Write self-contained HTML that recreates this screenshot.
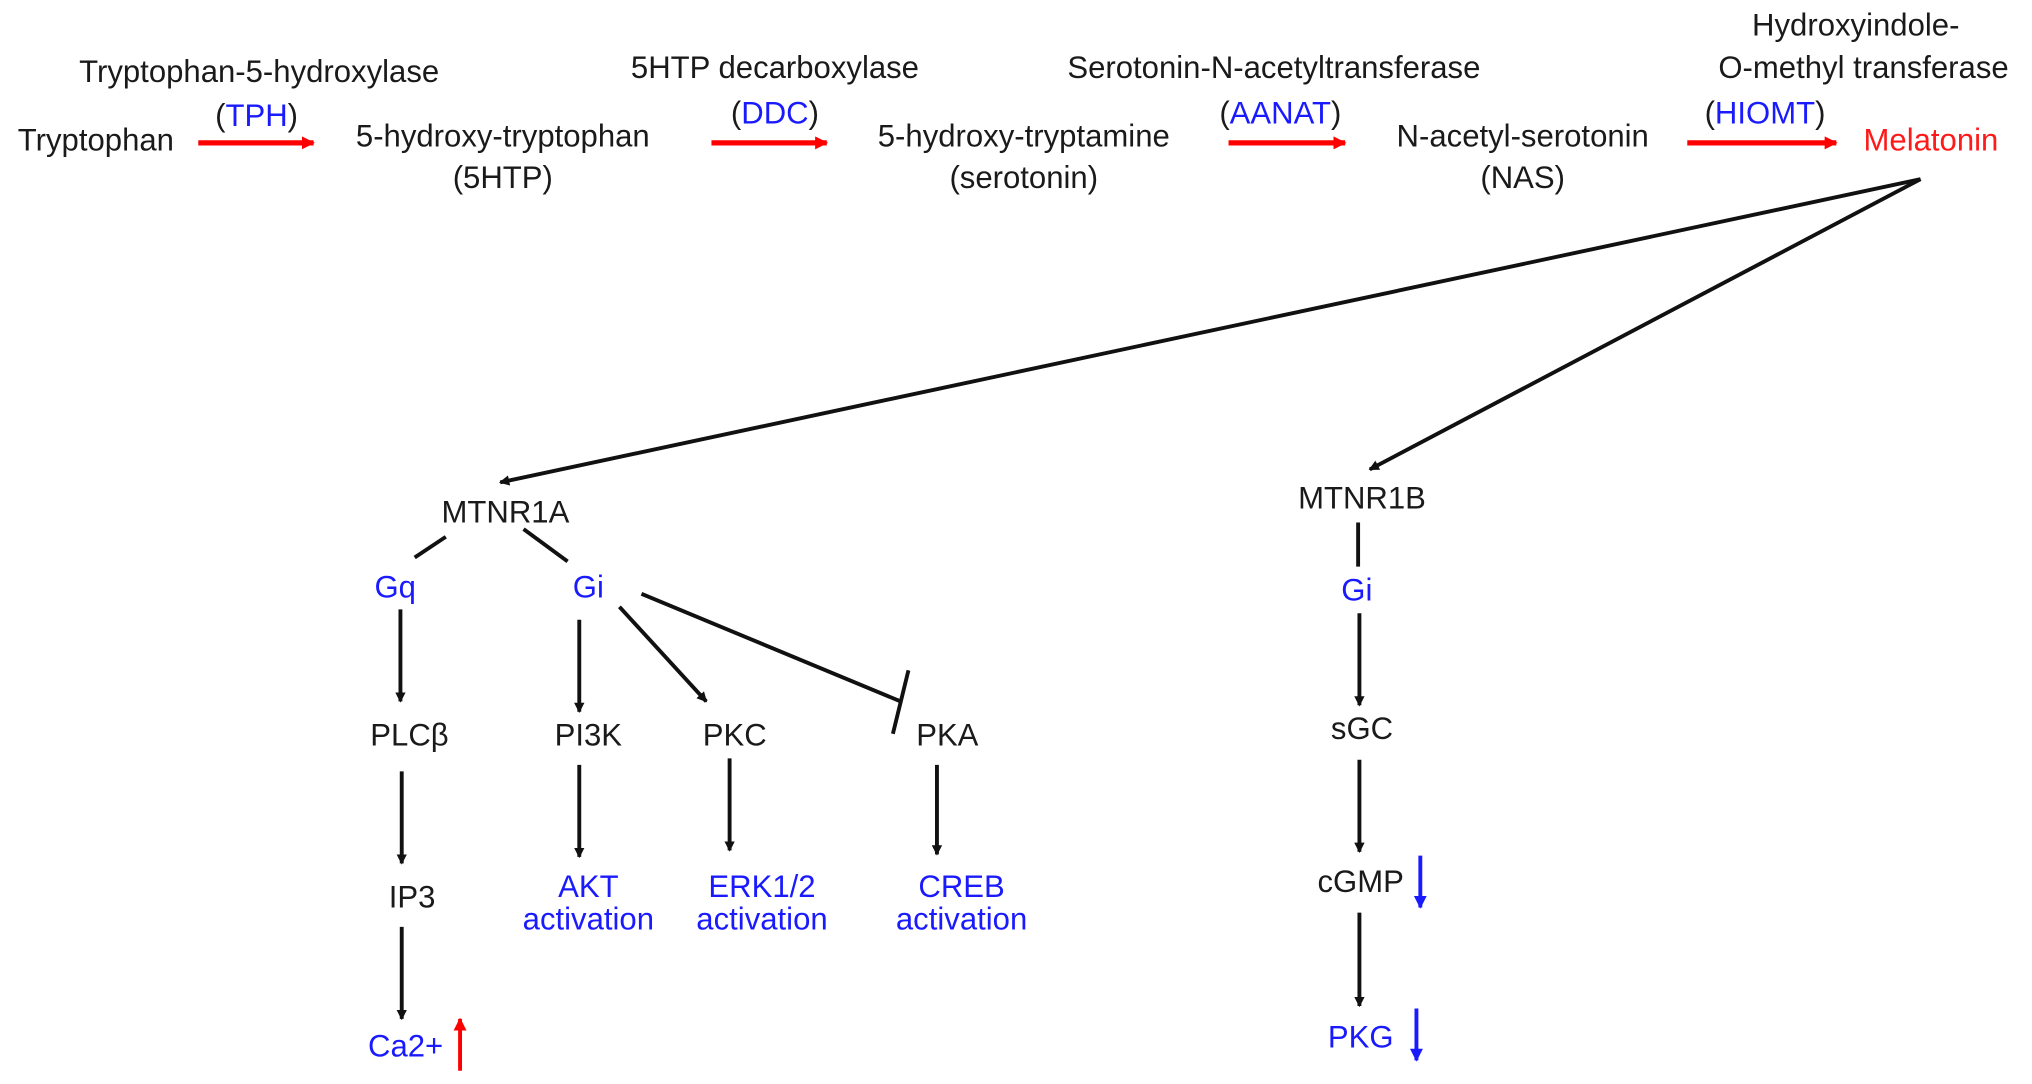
<!DOCTYPE html>
<html><head><style>
html,body{margin:0;padding:0;background:#fff;width:2032px;height:1084px;overflow:hidden}
text{font-family:"Liberation Sans",Arial,sans-serif;font-size:24px;text-anchor:middle}
.b{fill:#1a1aff}.r{fill:#ff1a1a}.k{fill:#1a1a1a}
</style></head><body>
<svg width="2032" height="1084" viewBox="0 0 1568 836" xmlns="http://www.w3.org/2000/svg">
<defs>
<marker id="ak" markerWidth="8" markerHeight="8" refX="7" refY="4" orient="auto" markerUnits="userSpaceOnUse" viewBox="0 0 8 8"><path d="M0,0 L8,4 L0,8 z" fill="#111"/></marker>
<marker id="ar" markerWidth="10" markerHeight="10" refX="9" refY="5" orient="auto" markerUnits="userSpaceOnUse" viewBox="0 0 10 10"><path d="M0,0 L10,5 L0,10 z" fill="#f00"/></marker>
<marker id="ab" markerWidth="10" markerHeight="10" refX="9" refY="5" orient="auto" markerUnits="userSpaceOnUse" viewBox="0 0 10 10"><path d="M0,0 L10,5 L0,10 z" fill="#1a1aff"/></marker>
</defs>
<g class="k">
<text x="200" y="63">Tryptophan-5-hydroxylase</text>
<text x="74" y="116">Tryptophan</text>
<text x="388" y="113">5-hydroxy-tryptophan</text>
<text x="388" y="145">(5HTP)</text>
<text x="598" y="60">5HTP decarboxylase</text>
<text x="790" y="113">5-hydroxy-tryptamine</text>
<text x="790" y="145">(serotonin)</text>
<text x="983" y="60">Serotonin-N-acetyltransferase</text>
<text x="1175" y="113">N-acetyl-serotonin</text>
<text x="1175" y="145">(NAS)</text>
<text x="1432" y="27">Hydroxyindole-</text>
<text x="1438" y="60">O-methyl transferase</text>
</g>
<text x="198" y="97" class="k">(<tspan class="b">TPH</tspan>)</text>
<text x="598" y="95" class="k">(<tspan class="b">DDC</tspan>)</text>
<text x="988" y="95" class="k">(<tspan class="b">AANAT</tspan>)</text>
<text x="1362" y="95" class="k">(<tspan class="b">HIOMT</tspan>)</text>
<text x="1490" y="116" class="r">Melatonin</text>
<g stroke="#f00" stroke-width="4" marker-end="url(#ar)">
<line x1="153" y1="110" x2="242" y2="110"/>
<line x1="549" y1="110" x2="638" y2="110"/>
<line x1="948" y1="110" x2="1038" y2="110"/>
<line x1="1302" y1="110" x2="1417" y2="110"/>
</g>
<g stroke="#111" stroke-width="3" fill="none">
<line x1="1482" y1="138" x2="386" y2="372" marker-end="url(#ak)"/>
<line x1="1482" y1="138" x2="1057" y2="362" marker-end="url(#ak)"/>
<line x1="344" y1="414" x2="320" y2="430"/>
<line x1="404" y1="408" x2="438" y2="433"/>
<line x1="309" y1="470" x2="309" y2="541" marker-end="url(#ak)"/>
<line x1="310" y1="595" x2="310" y2="666" marker-end="url(#ak)"/>
<line x1="310" y1="715" x2="310" y2="786" marker-end="url(#ak)"/>
<line x1="447" y1="478" x2="447" y2="549" marker-end="url(#ak)"/>
<line x1="447" y1="590" x2="447" y2="661" marker-end="url(#ak)"/>
<line x1="478" y1="468" x2="545" y2="541" marker-end="url(#ak)"/>
<line x1="563" y1="585" x2="563" y2="656" marker-end="url(#ak)"/>
<line x1="495" y1="458" x2="695" y2="541"/>
<line x1="701" y1="517" x2="689" y2="566"/>
<line x1="723" y1="590" x2="723" y2="659" marker-end="url(#ak)"/>
<line x1="1048" y1="403" x2="1048" y2="437"/>
<line x1="1049" y1="473" x2="1049" y2="544" marker-end="url(#ak)"/>
<line x1="1049" y1="586" x2="1049" y2="657" marker-end="url(#ak)"/>
<line x1="1049" y1="704" x2="1049" y2="776" marker-end="url(#ak)"/>
</g>
<line x1="355" y1="826" x2="355" y2="786" stroke="#f00" stroke-width="3" marker-end="url(#ar)"/>
<line x1="1096" y1="660" x2="1096" y2="700" stroke="#1a1aff" stroke-width="3" marker-end="url(#ab)"/>
<line x1="1093" y1="778" x2="1093" y2="818" stroke="#1a1aff" stroke-width="3" marker-end="url(#ab)"/>
<g class="k">
<text x="390" y="403">MTNR1A</text>
<text x="316" y="575">PLCβ</text>
<text x="318" y="700">IP3</text>
<text x="454" y="575">PI3K</text>
<text x="567" y="575">PKC</text>
<text x="731" y="575">PKA</text>
<text x="1051" y="392">MTNR1B</text>
<text x="1051" y="570">sGC</text>
<text x="1050" y="688">cGMP</text>
</g>
<g class="b">
<text x="305" y="461">Gq</text>
<text x="454" y="461">Gi</text>
<text x="313" y="815">Ca2+</text>
<text x="454" y="692">AKT</text>
<text x="454" y="717">activation</text>
<text x="588" y="692">ERK1/2</text>
<text x="588" y="717">activation</text>
<text x="742" y="692">CREB</text>
<text x="742" y="717">activation</text>
<text x="1047" y="463">Gi</text>
<text x="1050" y="808">PKG</text>
</g>
</svg>
</body></html>
